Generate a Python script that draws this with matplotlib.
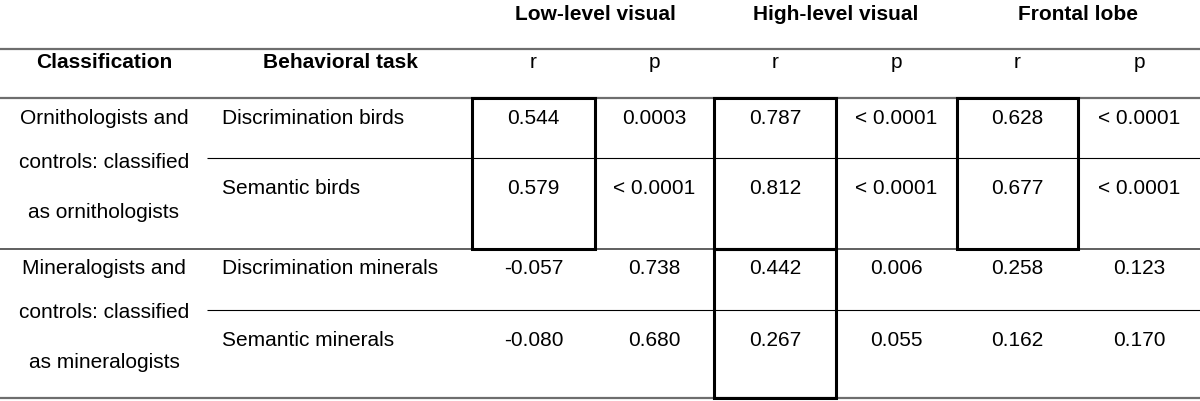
import matplotlib.pyplot as plt
from matplotlib.patches import Rectangle

plt.rcParams['font.family'] = ['Liberation Sans', 'DejaVu Sans']

# ── Data ──────────────────────────────────────────────────────────────────────
regions = ["Low-level visual", "High-level visual", "Frontal lobe"]
class_labels = [
    ["Ornithologists and", "controls: classified", "as ornithologists"],
    ["Mineralogists and", "controls: classified", "as mineralogists"],
]
tasks = ["Discrimination birds", "Semantic birds",
         "Discrimination minerals", "Semantic minerals"]
r_vals = [
    ["0.544", "0.787", "0.628"],
    ["0.579", "0.812", "0.677"],
    ["-0.057", "0.442", "0.258"],
    ["-0.080", "0.267", "0.162"],
]
p_vals = [
    ["0.0003", "< 0.0001", "< 0.0001"],
    ["< 0.0001", "< 0.0001", "< 0.0001"],
    ["0.738", "0.006", "0.123"],
    ["0.680", "0.055", "0.170"],
]
# boxed r cells per classification group
boxed = [
    [True, True, True],
    [False, True, False],
]

# ── Layout (pixel coords) ─────────────────────────────────────────────────────
W, H = 1200, 401
col_edges = [472, 595, 714, 836, 957, 1078, 1200]
row_edges = [98, 158, 249, 310, 398]
row_text_y = [118, 188, 268, 341]
class_text_y = [[118, 162, 212], [268, 313, 362]]
fs = 15

fig = plt.figure(figsize=(12, 4.01), dpi=100)
ax = fig.add_axes([0, 0, 1, 1])
ax.set_xlim(0, W)
ax.set_ylim(H, 0)
ax.axis("off")

# header
for i, name in enumerate(regions):
    xc = col_edges[2 * i + 1]
    ax.text(xc, 14, name, ha="center", va="center", fontsize=fs, fontweight="bold")
ax.text(104, 62, "Classification", ha="center", va="center", fontsize=fs, fontweight="bold")
ax.text(340, 62, "Behavioral task", ha="center", va="center", fontsize=fs, fontweight="bold")
for j in range(6):
    xc = (col_edges[j] + col_edges[j + 1]) / 2
    ax.text(xc, 62, "r" if j % 2 == 0 else "p", ha="center", va="center", fontsize=fs)

# horizontal rules
gray = "#6e6e6e"
for y in [49, 98, 398]:
    ax.plot([0, W], [y, y], color=gray, lw=1.6, solid_capstyle="butt")
ax.plot([0, W], [249, 249], color="#444444", lw=1.2, solid_capstyle="butt")
for y in [158, 310]:
    ax.plot([207, W], [y, y], color="black", lw=0.8, solid_capstyle="butt")

# body
for g in range(2):
    for k, line in enumerate(class_labels[g]):
        ax.text(104, class_text_y[g][k], line, ha="center", va="center", fontsize=fs)

for i, task in enumerate(tasks):
    y = row_text_y[i]
    ax.text(222, y, task, ha="left", va="center", fontsize=fs)
    for j in range(3):
        xr = (col_edges[2 * j] + col_edges[2 * j + 1]) / 2
        xp = (col_edges[2 * j + 1] + col_edges[2 * j + 2]) / 2
        ax.text(xr, y, r_vals[i][j], ha="center", va="center", fontsize=fs)
        ax.text(xp, y, p_vals[i][j], ha="center", va="center", fontsize=fs)

# boxes around r cells
for g in range(2):
    y0, y1 = row_edges[2 * g], row_edges[2 * g + 2]
    for j in range(3):
        if boxed[g][j]:
            x0, x1 = col_edges[2 * j], col_edges[2 * j + 1]
            ax.add_patch(Rectangle((x0, y0), x1 - x0, y1 - y0, fill=False,
                                   edgecolor="black", lw=2.2, zorder=3))

fig.savefig("out.png", dpi=100, facecolor="white")
